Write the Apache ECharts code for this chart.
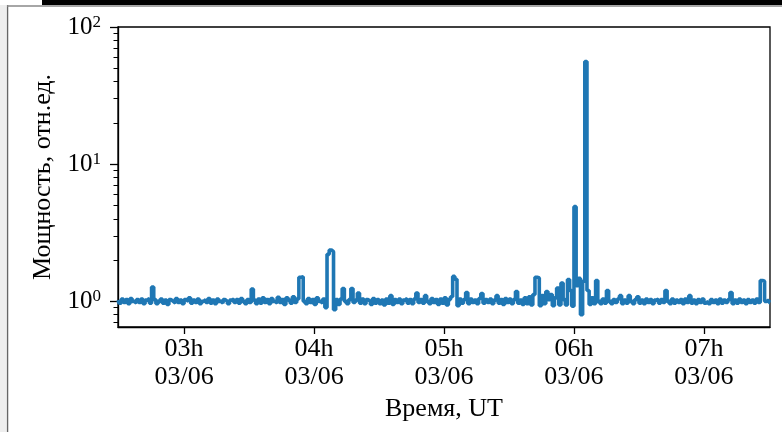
<!DOCTYPE html>
<html>
<head>
<meta charset="utf-8">
<script src="https://cdn.jsdelivr.net/npm/echarts@6/dist/echarts.min.js"></script>
<style>
  html, body { margin: 0; padding: 0; background: #fff; }
  #chart { width: 782px; height: 432px; }
</style>
</head>
<body>
<div id="chart"></div>
<script>
// one sample per minute, starting at startTime
const startTime = "2023-06-03T02:29:30Z";
const endTime = "2023-06-03T07:30:30Z";
const stepMs = 60 * 1000;
const power = [
  1.02, 0.97, 1.04, 0.98, 1.03, 0.96, 1.05, 1.0, 0.97, 1.03,
  0.98, 1.04, 0.96, 1.02, 1.05, 0.97, 1.27, 1.03, 0.96, 1.0,
  1.04, 0.97, 1.02, 0.95, 1.03, 1.0, 0.97, 1.05, 0.98, 1.02,
  0.96, 1.03, 1.0, 1.06, 0.97, 1.02, 0.98, 1.04, 0.96, 1.0,
  1.03, 0.98, 1.05, 0.97, 1.02, 0.96, 1.04, 1.0, 0.97, 1.03,
  1.0, 0.96, 1.02, 1.04, 0.98, 1.03, 0.97, 1.05, 1.0, 0.96,
  1.03, 0.98, 1.23, 1.02, 0.96, 1.04, 0.97, 1.06, 0.98, 1.03,
  0.96, 1.05, 1.0, 0.97, 1.07, 0.98, 1.03, 0.95, 1.06, 1.02,
  0.97, 1.08, 0.98, 1.04, 1.5, 1.51, 1.0, 0.96, 1.05, 0.98,
  1.03, 0.95, 1.06, 1.0, 0.97, 1.04, 0.9, 2.2, 2.37, 2.3,
  0.87, 1.03, 0.95, 1.04, 1.24, 1.0, 0.96, 1.03, 1.24, 0.98,
  1.02, 1.15, 0.97, 1.04, 0.96, 1.03, 1.0, 0.95, 1.05, 0.97,
  1.03, 0.96, 1.02, 0.94, 1.04, 0.97, 1.1, 0.95, 1.03, 0.98,
  1.04, 0.96, 1.02, 1.05, 0.97, 1.03, 0.96, 1.04, 1.15, 0.98,
  1.03, 0.97, 1.1, 1.0, 0.96, 1.05, 0.98, 1.03, 0.95, 1.04,
  0.97, 1.06, 0.94, 1.03, 1.08, 1.52, 1.45, 0.93, 1.04, 0.97,
  1.03, 1.16, 0.96, 1.04, 0.98, 1.02, 0.96, 1.05, 1.14, 0.97,
  1.03, 0.98, 1.04, 0.96, 1.02, 1.1, 0.97, 1.03, 0.95, 1.05,
  0.98, 1.04, 0.96, 1.03, 1.18, 0.97, 1.02, 0.95, 1.06, 0.96,
  1.08, 0.94, 1.12, 1.5, 1.48, 0.93, 1.1, 0.96, 1.18, 1.03,
  1.12, 0.93, 1.06, 1.25, 0.94, 1.36, 1.03, 0.94, 1.44, 1.2,
  0.92, 4.9, 1.3, 1.47, 0.8, 1.4, 56, 1.2, 0.95, 1.06,
  0.96, 1.42, 1.0, 0.96, 1.04, 0.97, 1.2, 1.0, 0.96, 1.03,
  0.98, 1.04, 1.1, 0.96, 1.02, 0.97, 1.1, 1.0, 0.96, 1.03,
  1.08, 0.97, 1.02, 0.96, 1.04, 0.98, 1.03, 0.96, 1.02, 1.04,
  0.97, 1.03, 0.98, 1.2, 1.0, 0.96, 1.04, 0.97, 1.02, 0.98,
  1.03, 0.96, 1.04, 0.98, 1.1, 0.97, 1.02, 0.96, 1.03, 0.98,
  1.04, 0.97, 1.0, 0.96, 1.03, 0.98, 1.02, 0.96, 1.04, 0.97,
  1.02, 0.98, 1.03, 1.16, 0.96, 1.02, 0.97, 1.04, 0.98, 1.02,
  0.96, 1.03, 0.98, 1.02, 0.97, 1.04, 0.98, 1.42, 1.4, 1.0,
  1.02, 0.98
];
const hourTicks = [
  "2023-06-03T03:00:00Z",
  "2023-06-03T04:00:00Z",
  "2023-06-03T05:00:00Z",
  "2023-06-03T06:00:00Z",
  "2023-06-03T07:00:00Z"
];
const majorY = [1, 10, 100];
const minorY = [0.7, 0.8, 0.9, 2, 3, 4, 5, 6, 7, 8, 9, 20, 30, 40, 50, 60, 70, 80, 90];
const yMin = 0.65;
const yMax = 100;

const FONT = "Liberation Serif";
const t0 = Date.parse(startTime);
const seriesData = power.map((v, i) => [t0 + i * stepMs, v]);
const xTicks = hourTicks.map((s) => Date.parse(s));
const pad = (n) => String(n).padStart(2, "0");

const chart = echarts.init(document.getElementById("chart"));
const option = {
  animation: false,
  backgroundColor: "#fff",
  grid: {
    left: 118, right: 12, top: 27, bottom: 105,
    show: true, borderColor: "#000", borderWidth: 1.3, backgroundColor: "transparent"
  },
  xAxis: {
    type: "value",
    min: Date.parse(startTime),
    max: Date.parse(endTime),
    name: "Время, UT",
    nameLocation: "middle",
    nameGap: 66,
    nameTextStyle: { fontFamily: FONT, fontSize: 26, color: "#000" },
    axisLine: { show: true, lineStyle: { color: "#000", width: 1.3 } },
    axisTick: { show: true, length: 7, customValues: xTicks, lineStyle: { color: "#000", width: 1.3 } },
    splitLine: { show: false },
    axisLabel: {
      customValues: xTicks,
      margin: 8,
      fontFamily: FONT, fontSize: 26, lineHeight: 28, color: "#000",
      formatter: (v) => {
        const d = new Date(v);
        return pad(d.getUTCHours()) + "h\n" + pad(d.getUTCDate()) + "/" + pad(d.getUTCMonth() + 1);
      }
    }
  },
  yAxis: [
    {
      type: "log",
      min: yMin, max: yMax,
      name: "Мощность, отн.ед.",
      nameLocation: "middle",
      nameRotate: 90,
      nameGap: 60,
      nameTextStyle: { fontFamily: FONT, fontSize: 26, color: "#000" },
      axisLine: { show: true, lineStyle: { color: "#000", width: 1.3 } },
      axisTick: { show: true, length: 8, customValues: majorY, lineStyle: { color: "#000", width: 1.3 } },
      splitLine: { show: false },
      axisLabel: {
        customValues: majorY,
        margin: 17,
        color: "#000",
        formatter: (v) => "{b|10}{s|" + Math.round(Math.log10(v)) + "}",
        rich: {
          b: { fontFamily: FONT, fontSize: 25, lineHeight: 26, color: "#000" },
          s: { fontFamily: FONT, fontSize: 17, lineHeight: 14, verticalAlign: "top", color: "#000" }
        }
      }
    },
    {
      type: "log",
      min: yMin, max: yMax,
      position: "left",
      axisLine: { show: false },
      axisTick: { show: true, length: 4.5, customValues: minorY, lineStyle: { color: "#000", width: 1 } },
      axisLabel: { show: false },
      splitLine: { show: false }
    }
  ],
  series: [
    {
      type: "line",
      data: seriesData,
      yAxisIndex: 0,
      step: "middle",
      showSymbol: false,
      lineStyle: { color: "#1f77b4", width: 3.6 },
      itemStyle: { color: "#1f77b4" },
      clip: true
    }
  ],
  graphic: [
    { type: "rect", shape: { x: 42, y: 0, width: 740, height: 5 }, style: { fill: "#000" }, silent: true },
    { type: "line", shape: { x1: 7.5, y1: 5, x2: 7.5, y2: 432 }, style: { stroke: "#666", lineWidth: 1.5 }, silent: true },
    { type: "line", shape: { x1: 7, y1: 6, x2: 782, y2: 6 }, style: { stroke: "#888", lineWidth: 1.5 }, silent: true },
    { type: "rect", shape: { x: 0, y: 5, width: 6.5, height: 427 }, style: { fill: "#eee" }, silent: true }
  ]
};
chart.setOption(option);
</script>
</body>
</html>
